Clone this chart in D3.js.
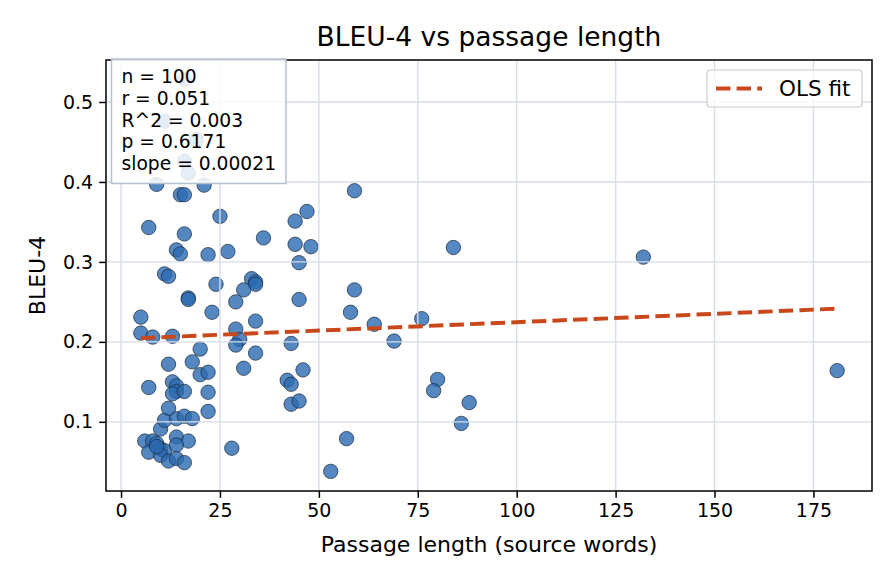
<!DOCTYPE html>
<html>
<head>
<meta charset="utf-8">
<script src="https://cdn.jsdelivr.net/npm/d3@7"></script>
<style>
  body { margin: 0; background: #fff; }
  svg { font-family: "DejaVu Sans", sans-serif; }
</style>
</head>
<body>
<svg></svg>
<script>
// passage length (words) and BLEU-4 score, one entry per item
const passageLength = [6, 8, 9, 10, 11, 7, 10, 14, 17, 14, 12, 14, 16, 10, 11, 14, 16, 18, 12, 22,
  22, 7, 13, 14, 14, 13, 16, 12, 18, 20, 22, 20, 9, 21, 15, 16, 25, 7, 16, 14,
  15, 22, 27, 11, 12, 24, 17, 17, 5, 23, 5, 8, 13, 29, 30, 29, 28, 16, 11, 19,
  16, 17, 36, 33, 34, 34, 31, 29, 34, 31, 34, 47, 44, 44, 48, 45, 45, 43, 46, 42,
  43, 43, 45, 59, 84, 59, 58, 64, 76, 69, 57, 53, 80, 79, 88, 86, 132, 181, 9];
const bleu4 = [0.076, 0.076, 0.073, 0.066, 0.064, 0.062, 0.058, 0.081, 0.076, 0.071, 0.051, 0.054, 0.049, 0.091, 0.102, 0.104, 0.107, 0.104, 0.117, 0.113,
  0.137, 0.143, 0.150, 0.145, 0.138, 0.135, 0.138, 0.172, 0.175, 0.159, 0.162, 0.191, 0.397, 0.396, 0.384, 0.384, 0.357, 0.343, 0.335, 0.315,
  0.310, 0.309, 0.313, 0.285, 0.282, 0.272, 0.255, 0.253, 0.231, 0.237, 0.211, 0.206, 0.207, 0.216, 0.203, 0.196, 0.067, 0.528, 0.476, 0.453,
  0.426, 0.411, 0.330, 0.279, 0.275, 0.272, 0.265, 0.250, 0.226, 0.167, 0.186, 0.363, 0.351, 0.322, 0.319, 0.299, 0.253, 0.198, 0.165, 0.152,
  0.147, 0.122, 0.126, 0.389, 0.318, 0.265, 0.237, 0.222, 0.229, 0.201, 0.079, 0.038, 0.153, 0.139, 0.124, 0.098, 0.306, 0.164, 0.069];

const fitSlope = 0.00021;
const fitIntercept = 0.2036;
const statsLines = ['n = 100', 'r = 0.051', 'R^2 = 0.003', 'p = 0.6171', 'slope = 0.00021'];
const xTicks = [0, 25, 50, 75, 100, 125, 150, 175];
const yTicks = [0.1, 0.2, 0.3, 0.4, 0.5];

const width = 896;
const height = 584;
const margin = {top: 60, right: 24, bottom: 93, left: 106};

const svg = d3.select('svg')
  .attr('width', width)
  .attr('height', height);

const points = passageLength.map((d, i) => ({x: d, y: bleu4[i]}));

// matplotlib-like 5% padding around the data
function padded(ext) {
  const m = (ext[1] - ext[0]) * 0.05;
  return [ext[0] - m, ext[1] + m];
}

const xScale = d3.scaleLinear()
  .domain(padded(d3.extent(passageLength)))
  .range([margin.left, width - margin.right]);
const yScale = d3.scaleLinear()
  .domain(padded(d3.extent(bleu4)))
  .range([height - margin.bottom, margin.top]);

const x0 = margin.left, x1 = width - margin.right;
const y0 = margin.top, y1 = height - margin.bottom;

// points
svg.append('g')
  .selectAll('circle')
  .data(points)
  .enter()
  .append('circle')
    .attr('cx', d => xScale(d.x))
    .attr('cy', d => yScale(d.y))
    .attr('r', 7.2)
    .attr('fill', '#2a6ab0')
    .attr('fill-opacity', 0.8)
    .attr('stroke', '#1c2b40')
    .attr('stroke-opacity', 0.8)
    .attr('stroke-width', 0.9);

// grid sits above the scatter, like matplotlib
const grid = svg.append('g')
  .attr('stroke', '#d6dde8')
  .attr('stroke-width', 1.4);
grid.selectAll('.gx')
  .data(xTicks)
  .enter()
  .append('line')
    .attr('x1', d => xScale(d))
    .attr('x2', d => xScale(d))
    .attr('y1', y0)
    .attr('y2', y1);
grid.selectAll('.gy')
  .data(yTicks)
  .enter()
  .append('line')
    .attr('x1', x0)
    .attr('x2', x1)
    .attr('y1', d => yScale(d))
    .attr('y2', d => yScale(d));

// OLS fit
const fitX = d3.extent(passageLength);
svg.append('line')
  .attr('x1', xScale(fitX[0]))
  .attr('y1', yScale(fitIntercept + fitSlope * fitX[0]))
  .attr('x2', xScale(fitX[1]))
  .attr('y2', yScale(fitIntercept + fitSlope * fitX[1]))
  .attr('stroke', '#c9481b')
  .attr('stroke-width', 3.9)
  .attr('stroke-dasharray', '14.4,6.2');

// axes
const xAxis = d3.axisBottom(xScale)
  .tickValues(xTicks)
  .tickFormat(d3.format('d'))
  .tickSize(6.8)
  .tickPadding(6);
const yAxis = d3.axisLeft(yScale)
  .tickValues(yTicks)
  .tickFormat(d3.format('.1f'))
  .tickSize(6.8)
  .tickPadding(6);

svg.append('g')
  .attr('transform', `translate(0, ${y1})`)
  .call(xAxis)
  .call(g => g.select('.domain').remove())
  .call(g => g.selectAll('line').attr('stroke', '#000').attr('stroke-width', 1.5))
  .call(g => g.selectAll('text').attr('font-size', 19).attr('fill', '#000').attr('font-family', 'DejaVu Sans'));

svg.append('g')
  .attr('transform', `translate(${x0}, 0)`)
  .call(yAxis)
  .call(g => g.select('.domain').remove())
  .call(g => g.selectAll('line').attr('stroke', '#000').attr('stroke-width', 1.5))
  .call(g => g.selectAll('text').attr('font-size', 19).attr('fill', '#000').attr('font-family', 'DejaVu Sans'));

svg.append('rect')
  .attr('x', x0)
  .attr('y', y0)
  .attr('width', x1 - x0)
  .attr('height', y1 - y0)
  .attr('fill', 'none')
  .attr('stroke', '#000')
  .attr('stroke-width', 1.5);

// stats box
svg.append('rect')
  .attr('x', 111.5)
  .attr('y', 59)
  .attr('width', 174.5)
  .attr('height', 124.5)
  .attr('fill', '#fff')
  .attr('fill-opacity', 0.85)
  .attr('stroke', '#b4c0cf')
  .attr('stroke-width', 1.5);

svg.append('g')
  .selectAll('text')
  .data(statsLines)
  .enter()
  .append('text')
    .attr('x', 121.5)
    .attr('y', (d, i) => 83.3 + i * 21.7)
    .attr('font-size', 18.7)
    .text(d => d);

// legend
const legend = svg.append('g');
legend.append('rect')
  .attr('x', 707)
  .attr('y', 70)
  .attr('width', 155)
  .attr('height', 37)
  .attr('rx', 3)
  .attr('fill', '#fff')
  .attr('fill-opacity', 0.8)
  .attr('stroke', '#cccccc')
  .attr('stroke-width', 1.2);
legend.append('line')
  .attr('x1', 716)
  .attr('x2', 762)
  .attr('y1', 88.5)
  .attr('y2', 88.5)
  .attr('stroke', '#c9481b')
  .attr('stroke-width', 3.9)
  .attr('stroke-dasharray', '14.4,6.2');
legend.append('text')
  .attr('x', 779)
  .attr('y', 96)
  .attr('font-size', 21.5)
  .text('OLS fit');

// titles
svg.append('text')
  .attr('x', (x0 + x1) / 2)
  .attr('y', 46)
  .attr('text-anchor', 'middle')
  .attr('font-size', 26.5)
  .text('BLEU-4 vs passage length');

svg.append('text')
  .attr('x', (x0 + x1) / 2)
  .attr('y', 552)
  .attr('text-anchor', 'middle')
  .attr('font-size', 22)
  .text('Passage length (source words)');

svg.append('text')
  .attr('transform', 'rotate(-90)')
  .attr('x', -(y0 + y1) / 2)
  .attr('y', 45)
  .attr('text-anchor', 'middle')
  .attr('font-size', 22)
  .text('BLEU-4');
</script>
</body>
</html>
